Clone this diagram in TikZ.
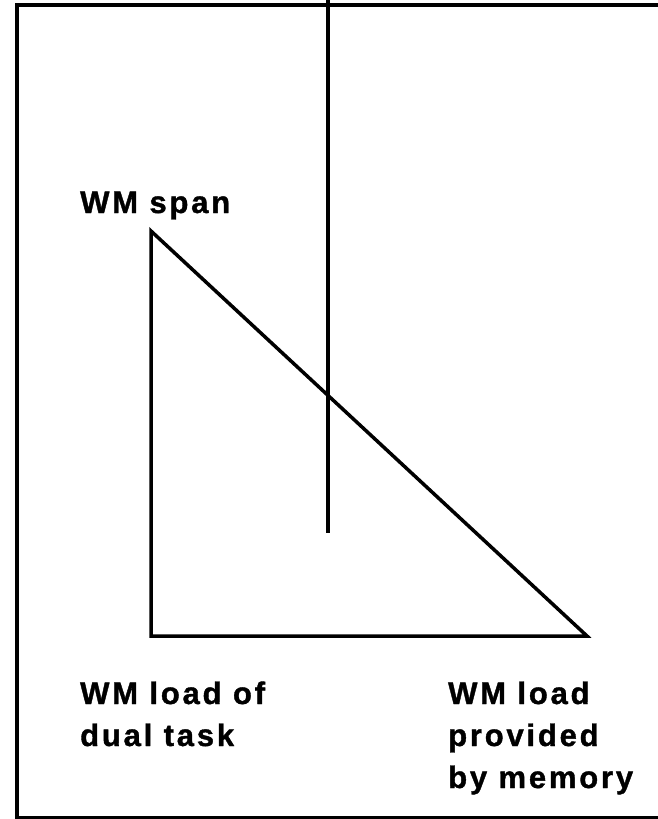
\documentclass[tikz,border=0pt]{standalone}
\usepackage{fontspec}
\newfontfamily\lblfont{Liberation Sans}[LetterSpace=9,BoldFeatures={FakeBold=1.2}]
\begin{document}
\begin{tikzpicture}[x=1pt,y=-1pt,
  frame/.style={line width=4pt},
  edge/.style={line width=3.5pt,line join=miter},
  lbl/.style={font=\lblfont\bfseries\fontsize{31}{42}\selectfont,align=left,inner sep=0pt,anchor=base west}]
  \useasboundingbox (0,0) rectangle (657,819);
  % outer frame (runs past the right edge)
  \draw[frame] (17,5) -- (670,5);
  \draw[frame] (17,818) -- (670,818);
  \draw[frame] (17,3) -- (17,820);
  % corners of the triangle
  \coordinate (apex) at (151,231);
  \coordinate (bl) at (151,636);
  \coordinate (br) at (587,636);
  \draw[edge] (apex) -- (bl) -- (br) -- cycle;
  % vertical divider from the top
  \coordinate (vtop) at (328,0);
  \coordinate (vbot) at (328,533);
  \draw[edge] (vtop) -- (vbot);
  % labels (base anchor sits on the last line)
  \node[lbl] (span) at (80,213) {WM span};
  \node[lbl] (dual) at (80,746) {WM load of\\dual task};
  \node[lbl] (mem) at (448,788) {WM load\\provided\\by memory};
\end{tikzpicture}
\end{document}
